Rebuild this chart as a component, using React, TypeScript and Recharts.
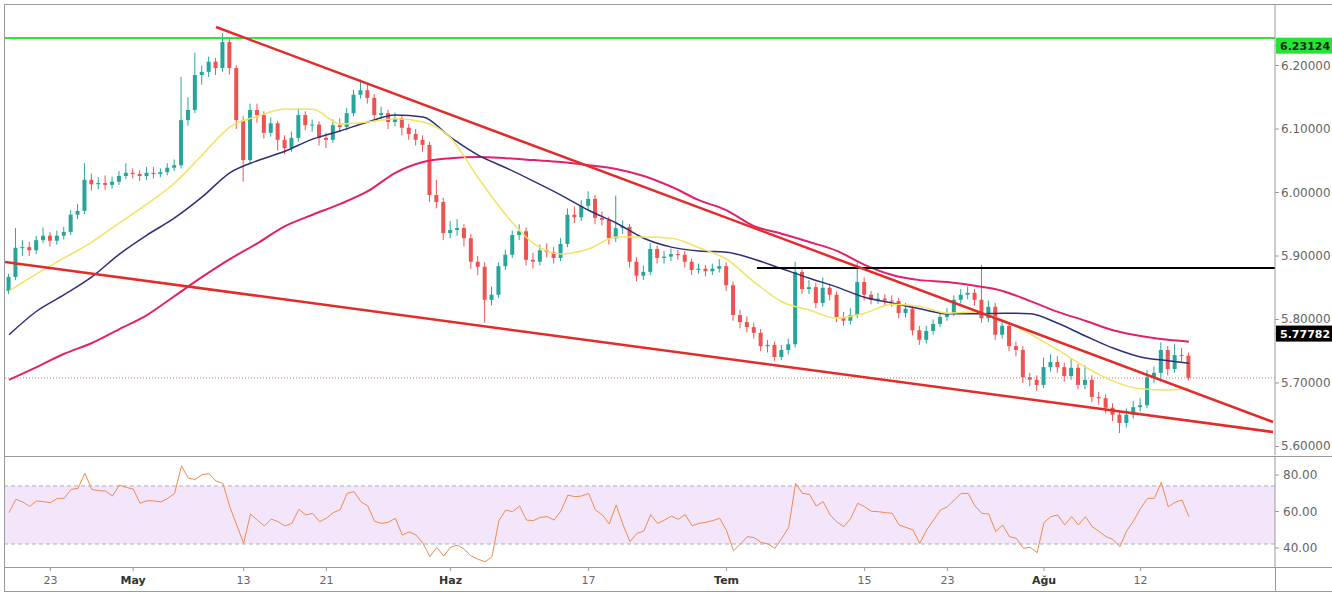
import React from 'react';
import { ComposedChart, Bar, Line, XAxis, YAxis, ReferenceLine, ReferenceArea } from 'recharts';

// ---------- data ----------
const firstOpen = 5.845;
const closes = [
  5.867, 5.913, 5.914, 5.909, 5.925, 5.932, 5.924, 5.932, 5.938, 5.965,
  5.971, 6.020, 6.013, 6.015, 6.012, 6.017, 6.026, 6.031, 6.029, 6.026,
  6.031, 6.029, 6.032, 6.039, 6.043, 6.114, 6.130, 6.185, 6.190, 6.206,
  6.196, 6.237, 6.196, 6.114, 6.051, 6.130, 6.122, 6.094, 6.109, 6.083,
  6.070, 6.086, 6.122, 6.106, 6.107, 6.086, 6.083, 6.106, 6.103, 6.125,
  6.154, 6.161, 6.149, 6.122, 6.125, 6.111, 6.117, 6.102, 6.092, 6.083,
  6.075, 5.996, 5.985, 5.936, 5.941, 5.944, 5.928, 5.891, 5.883, 5.831,
  5.839, 5.884, 5.902, 5.933, 5.939, 5.894, 5.891, 5.909, 5.906, 5.897,
  5.919, 5.965, 5.961, 5.979, 5.990, 5.960, 5.957, 5.928, 5.944, 5.946,
  5.891, 5.869, 5.875, 5.911, 5.897, 5.899, 5.903, 5.902, 5.891, 5.878,
  5.880, 5.876, 5.880, 5.884, 5.854, 5.807, 5.796, 5.788, 5.779, 5.758,
  5.760, 5.741, 5.752, 5.761, 5.875, 5.848, 5.851, 5.826, 5.850, 5.839,
  5.804, 5.798, 5.807, 5.859, 5.839, 5.831, 5.833, 5.830, 5.829, 5.810,
  5.817, 5.783, 5.768, 5.782, 5.793, 5.804, 5.810, 5.831, 5.839, 5.842,
  5.831, 5.802, 5.820, 5.776, 5.790, 5.758, 5.752, 5.709, 5.705, 5.697,
  5.725, 5.733, 5.725, 5.711, 5.724, 5.697, 5.705, 5.678, 5.676, 5.661,
  5.650, 5.637, 5.650, 5.662, 5.665, 5.709, 5.716, 5.752, 5.722, 5.744,
  5.743, 5.708,
];
const highs = [
  5.872, 5.944, 5.925, 5.922, 5.932, 5.945, 5.938, 5.940, 5.946, 5.972,
  5.982, 6.046, 6.030, 6.024, 6.027, 6.025, 6.034, 6.046, 6.038, 6.035,
  6.040, 6.040, 6.038, 6.046, 6.052, 6.182, 6.150, 6.220, 6.200, 6.214,
  6.212, 6.251, 6.242, 6.200, 6.120, 6.140, 6.140, 6.128, 6.118, 6.113,
  6.090, 6.096, 6.133, 6.128, 6.115, 6.112, 6.094, 6.115, 6.117, 6.133,
  6.162, 6.178, 6.170, 6.155, 6.135, 6.130, 6.126, 6.122, 6.108, 6.100,
  6.090, 6.080, 6.020, 5.992, 5.955, 5.958, 5.950, 5.935, 5.900, 5.890,
  5.852, 5.890, 5.910, 5.940, 5.950, 5.945, 5.905, 5.918, 5.920, 5.914,
  5.928, 5.975, 5.978, 5.988, 6.002, 5.996, 5.970, 5.962, 5.995, 5.956,
  5.950, 5.898, 5.885, 5.920, 5.916, 5.908, 5.912, 5.910, 5.908, 5.896,
  5.888, 5.886, 5.888, 5.895, 5.890, 5.860, 5.815, 5.805, 5.795, 5.785,
  5.768, 5.765, 5.760, 5.770, 5.891, 5.882, 5.862, 5.858, 5.866, 5.856,
  5.844, 5.812, 5.818, 5.889, 5.866, 5.845, 5.842, 5.840, 5.838, 5.834,
  5.826, 5.822, 5.790, 5.790, 5.800, 5.812, 5.818, 5.838, 5.848, 5.852,
  5.848, 5.886, 5.830, 5.826, 5.800, 5.795, 5.765, 5.758, 5.716, 5.712,
  5.740, 5.745, 5.742, 5.732, 5.738, 5.730, 5.728, 5.712, 5.686, 5.682,
  5.668, 5.656, 5.660, 5.672, 5.676, 5.720, 5.726, 5.764, 5.758, 5.762,
  5.755, 5.748,
];
const lows = [
  5.840, 5.862, 5.900, 5.900, 5.903, 5.920, 5.915, 5.918, 5.926, 5.933,
  5.958, 5.966, 6.003, 6.005, 6.004, 6.006, 6.012, 6.021, 6.022, 6.018,
  6.020, 6.022, 6.024, 6.027, 6.034, 6.038, 6.105, 6.125, 6.170, 6.182,
  6.185, 6.190, 6.186, 6.100, 6.017, 6.045, 6.110, 6.085, 6.088, 6.066,
  6.060, 6.064, 6.080, 6.098, 6.096, 6.074, 6.070, 6.078, 6.095, 6.098,
  6.120, 6.148, 6.140, 6.112, 6.116, 6.100, 6.104, 6.090, 6.083, 6.074,
  6.064, 5.985, 5.975, 5.925, 5.928, 5.932, 5.915, 5.880, 5.870, 5.795,
  5.822, 5.834, 5.878, 5.897, 5.925, 5.885, 5.880, 5.885, 5.898, 5.888,
  5.892, 5.914, 5.952, 5.955, 5.972, 5.950, 5.948, 5.918, 5.922, 5.935,
  5.882, 5.860, 5.862, 5.870, 5.888, 5.888, 5.892, 5.894, 5.882, 5.870,
  5.872, 5.868, 5.870, 5.874, 5.845, 5.798, 5.786, 5.780, 5.770, 5.750,
  5.748, 5.735, 5.736, 5.745, 5.756, 5.840, 5.840, 5.818, 5.820, 5.830,
  5.796, 5.790, 5.792, 5.802, 5.830, 5.824, 5.825, 5.822, 5.820, 5.802,
  5.803, 5.775, 5.760, 5.762, 5.776, 5.788, 5.798, 5.805, 5.825, 5.832,
  5.822, 5.795, 5.796, 5.768, 5.770, 5.750, 5.742, 5.700, 5.695, 5.688,
  5.692, 5.718, 5.716, 5.702, 5.705, 5.690, 5.690, 5.670, 5.666, 5.652,
  5.640, 5.621, 5.630, 5.644, 5.655, 5.660, 5.700, 5.702, 5.712, 5.716,
  5.734, 5.704,
];
// moving averages sampled every 4th candle (last entry = final candle)
const maYellow = [
  5.845, 5.872, 5.897, 5.922, 5.952, 5.982, 6.015, 6.059, 6.103, 6.120,
  6.131, 6.131, 6.108, 6.111, 6.116, 6.111, 6.086, 6.023, 5.965, 5.920,
  5.903, 5.911, 5.930, 5.930, 5.928, 5.913, 5.895, 5.859, 5.828, 5.815,
  5.802, 5.810, 5.824, 5.821, 5.810, 5.812, 5.799, 5.777, 5.752, 5.725,
  5.703, 5.691, 5.689, 5.692,
];
const maNavy = [
  5.776, 5.813, 5.839, 5.867, 5.903, 5.933, 5.960, 5.993, 6.031, 6.050,
  6.065, 6.084, 6.097, 6.111, 6.122, 6.119, 6.087, 6.059, 6.039, 6.018,
  5.996, 5.972, 5.952, 5.928, 5.914, 5.908, 5.906, 5.895, 5.880, 5.865,
  5.851, 5.835, 5.826, 5.817, 5.809, 5.809, 5.810, 5.809, 5.794, 5.774,
  5.755, 5.741, 5.735, 5.731,
];
const maPink = [
  5.705, 5.725, 5.746, 5.763, 5.785, 5.807, 5.837, 5.867, 5.895, 5.920,
  5.947, 5.965, 5.982, 6.002, 6.031, 6.048, 6.054, 6.056, 6.054, 6.051,
  6.048, 6.043, 6.037, 6.026, 6.009, 5.988, 5.972, 5.947, 5.935, 5.922,
  5.908, 5.886, 5.870, 5.862, 5.859, 5.853, 5.845, 5.829, 5.812, 5.798,
  5.783, 5.774, 5.768, 5.765,
];
const rsiValues = [
  59.4, 66.7, 65.2, 62.8, 65.8, 65.4, 64.8, 67.2, 67.2, 72.1,
  72.7, 81.0, 72.1, 71.4, 71.2, 68.5, 74.5, 73.2, 72.3, 64.5,
  65.9, 65.8, 65.2, 67.2, 69.9, 85.0, 78.2, 77.6, 80.2, 80.7,
  76.7, 75.4, 62.6, 52.6, 42.6, 58.6, 55.3, 52.1, 55.9, 54.4,
  52.1, 53.5, 61.2, 58.1, 59.0, 54.4, 56.3, 59.4, 61.0, 69.9,
  70.9, 65.4, 63.0, 54.6, 53.5, 54.1, 56.3, 47.1, 48.8, 47.1,
  42.6, 35.3, 40.4, 35.6, 40.4, 41.6, 39.3, 35.6, 33.8, 32.5,
  35.3, 55.0, 60.8, 59.9, 63.0, 55.3, 55.0, 56.8, 57.2, 55.3,
  60.3, 69.0, 68.1, 68.5, 69.9, 60.8, 58.1, 53.2, 63.6, 52.6,
  43.5, 48.0, 49.3, 58.3, 53.5, 55.3, 57.5, 55.7, 58.3, 52.2,
  53.5, 54.1, 55.0, 56.3, 49.5, 38.5, 42.2, 46.2, 45.7, 43.1,
  42.2, 39.8, 45.3, 51.3, 75.4, 69.9, 69.4, 63.0, 65.4, 58.1,
  54.2, 51.7, 56.3, 64.5, 62.6, 60.1, 59.9, 59.4, 59.0, 52.6,
  51.3, 49.9, 42.6, 49.9, 55.3, 60.8, 62.6, 66.3, 69.9, 69.9,
  63.0, 59.0, 58.6, 49.0, 52.6, 46.2, 45.3, 39.8, 40.4, 37.4,
  53.9, 57.2, 58.1, 52.6, 57.2, 52.6, 57.2, 51.7, 49.0, 46.2,
  44.7, 40.7, 49.5, 55.0, 61.7, 67.2, 67.2, 76.0, 62.6, 65.0,
  66.3, 57.2,
];

const priceTicks = [5.6, 5.7, 5.8, 5.9, 6.0, 6.1, 6.2];
const markerTicks = [
  { value: 6.23124, text: '6.23124', bg: '#22e632', color: '#222' },
  { value: 5.77782, text: '5.77782', bg: '#000000', color: '#ffffff' },
];
const rsiTicks = [40, 60, 80];
const dateTicks = [3, 9, 17, 23, 32, 42, 52, 62, 68, 75, 82];
const dateLabels = ['23', 'May', '13', '21', 'Haz', '17', 'Tem', '15', '23', 'Ağu', '12'];
const monthLabels = ['May', 'Haz', 'Tem', 'Ağu'];

const upperTrend = [{ x: 15.0, y: 6.2606 }, { x: 91.6, y: 5.6386 }];
const lowerTrend = [{ x: -0.29, y: 5.8906 }, { x: 91.6, y: 5.6228 }];
const blackLevel = { from: 54.2, to: 91.74, y: 5.881 };
const greenLevel = 6.2433;
const lastPrice = 5.708;
const rsiBand = { low: 42.2, high: 74.0 };

// ---------- layout / style ----------
const W = 1332;
const X_DOMAIN: [number, number] = [-0.29, 91.74];
const PRICE_DOMAIN: [number, number] = [5.5866, 6.2953];
const RSI_DOMAIN: [number, number] = [29.6, 89.86];
const UP = '#26a69a';
const DOWN = '#ef5350';
const AXIS = '#9a9a9a';
const FONT = 'DejaVu Sans';

const candles = closes.map((c, k) => {
  const sample = k % 4 === 0 ? k / 4 : k === closes.length - 1 ? maYellow.length - 1 : -1;
  return {
    x: k / 2,
    open: k === 0 ? firstOpen : closes[k - 1],
    close: c,
    high: highs[k],
    low: lows[k],
    maY: sample >= 0 ? maYellow[sample] : null,
    maN: sample >= 0 ? maNavy[sample] : null,
    maP: sample >= 0 ? maPink[sample] : null,
    rsi: rsiValues[k],
  };
});

const Candle = (props: any) => {
  const { x, y, width, height, payload } = props;
  if (x == null || y == null) return null;
  const top = Math.min(y, y + height);
  const h = Math.abs(height);
  const { open, close, high, low } = payload;
  const span = high - low || 1e-9;
  const py = (v: number) => top + ((high - v) / span) * h;
  const color = close >= open ? UP : DOWN;
  const cx = x + width / 2;
  const bTop = py(Math.max(open, close));
  const bBot = py(Math.min(open, close));
  return (
    <g>
      <line x1={cx} x2={cx} y1={top} y2={top + h} stroke={color} strokeWidth={1} />
      <rect x={x} y={bTop} width={width} height={Math.max(1, bBot - bTop)} fill={color} />
    </g>
  );
};

const PriceTick = (props: any) => {
  const { x, y, payload } = props;
  const v = payload.value;
  const m = markerTicks.find((t) => Math.abs(t.value - v) < 1e-9);
  if (m) {
    return (
      <g>
        <rect x={x - 5} y={y - 8} width={64} height={16} fill={m.bg} />
        <text x={x - 1} y={y + 4} fill={m.color} fontSize={11} fontFamily={FONT} fontWeight="bold">
          {m.text}
        </text>
      </g>
    );
  }
  return (
    <text x={x} y={y + 4} fill="#666" fontSize={12} fontFamily={FONT}>
      {v.toFixed(5)}
    </text>
  );
};

const RsiTick = (props: any) => {
  const { x, y, payload } = props;
  return (
    <text x={x + 2} y={y + 4} fill="#666" fontSize={12} fontFamily={FONT}>
      {payload.value.toFixed(2)}
    </text>
  );
};

const DateTick = (props: any) => {
  const { x, y, payload } = props;
  const idx = dateTicks.indexOf(payload.value);
  const label = dateLabels[idx] ?? '';
  const month = monthLabels.includes(label);
  return (
    <text
      x={x}
      y={y + 11}
      textAnchor="middle"
      fill={month ? '#333' : '#666'}
      fontSize={11}
      fontFamily={FONT}
      fontWeight={month ? 'bold' : 'normal'}
    >
      {label}
    </text>
  );
};

export default function App() {
  return (
    <div style={{ position: 'absolute', left: 0, top: 0, width: W, height: 595, background: '#fff', overflow: 'hidden' }}>
      <div style={{ position: 'absolute', left: 0, top: 0 }}>
        <ComposedChart width={W} height={456} data={candles} margin={{ top: 5, right: 0, bottom: 1, left: 5 }}>
          <XAxis dataKey="x" type="number" domain={X_DOMAIN} allowDataOverflow hide />
          <YAxis
            orientation="right"
            width={57}
            type="number"
            domain={PRICE_DOMAIN}
            allowDataOverflow
            ticks={[...priceTicks, ...markerTicks.map((m) => m.value)]}
            interval={0}
            tick={<PriceTick />}
            tickSize={4}
            tickLine={{ stroke: AXIS }}
            axisLine={{ stroke: AXIS }}
          />
          <ReferenceLine y={lastPrice} stroke="#e57373" strokeDasharray="1 2" strokeWidth={1} />
          <Bar dataKey={(d: any) => [d.low, d.high]} barSize={4} shape={<Candle />} isAnimationActive={false} />
          <Line dataKey="maP" type="monotone" stroke="#e5206b" strokeWidth={2} dot={false} connectNulls isAnimationActive={false} />
          <Line dataKey="maN" type="monotone" stroke="#2e2f7c" strokeWidth={1.5} dot={false} connectNulls isAnimationActive={false} />
          <Line dataKey="maY" type="monotone" stroke="#f3e35f" strokeWidth={1.5} dot={false} connectNulls isAnimationActive={false} />
          <ReferenceLine y={greenLevel} stroke="#2ee62e" strokeWidth={2} />
          <ReferenceLine
            segment={[{ x: blackLevel.from, y: blackLevel.y }, { x: blackLevel.to, y: blackLevel.y }]}
            stroke="#000"
            strokeWidth={2}
            ifOverflow="hidden"
          />
          <ReferenceLine segment={upperTrend} stroke="#e52a2a" strokeWidth={2.5} ifOverflow="hidden" />
          <ReferenceLine segment={lowerTrend} stroke="#e52a2a" strokeWidth={2.5} ifOverflow="hidden" />
        </ComposedChart>
      </div>
      <div style={{ position: 'absolute', left: 0, top: 456 }}>
        <ComposedChart width={W} height={136} data={candles} margin={{ top: 1, right: 0, bottom: 0, left: 5 }}>
          <XAxis
            dataKey="x"
            type="number"
            domain={X_DOMAIN}
            allowDataOverflow
            ticks={dateTicks}
            interval={0}
            tick={<DateTick />}
            height={25}
            tickSize={4}
            tickLine={{ stroke: AXIS }}
            axisLine={false}
          />
          <YAxis
            orientation="right"
            width={57}
            type="number"
            domain={RSI_DOMAIN}
            allowDataOverflow
            ticks={rsiTicks}
            interval={0}
            tick={<RsiTick />}
            tickSize={4}
            tickLine={{ stroke: AXIS }}
            axisLine={{ stroke: AXIS }}
          />
          <ReferenceArea y1={rsiBand.low} y2={rsiBand.high} fill="#f3e6fb" fillOpacity={1} stroke="none" />
          <ReferenceLine y={rsiBand.high} stroke="#a9aec4" strokeDasharray="4 3" />
          <ReferenceLine y={rsiBand.low} stroke="#a9aec4" strokeDasharray="4 3" />
          <Line dataKey="rsi" type="linear" stroke="#ee8a4e" strokeWidth={1} dot={false} isAnimationActive={false} />
        </ComposedChart>
      </div>
      {/* frame lines */}
      <div style={{ position: 'absolute', left: 4, top: 4, width: 1400, height: 588, border: `1px solid ${AXIS}`, boxSizing: 'border-box', pointerEvents: 'none' }} />
      <div style={{ position: 'absolute', left: 4, top: 456, width: 1330, height: 1, background: AXIS }} />
      <div style={{ position: 'absolute', left: 4, top: 567, width: 1330, height: 1, background: AXIS }} />
      <div style={{ position: 'absolute', left: 1275, top: 567, width: 1, height: 25, background: AXIS }} />
    </div>
  );
}
